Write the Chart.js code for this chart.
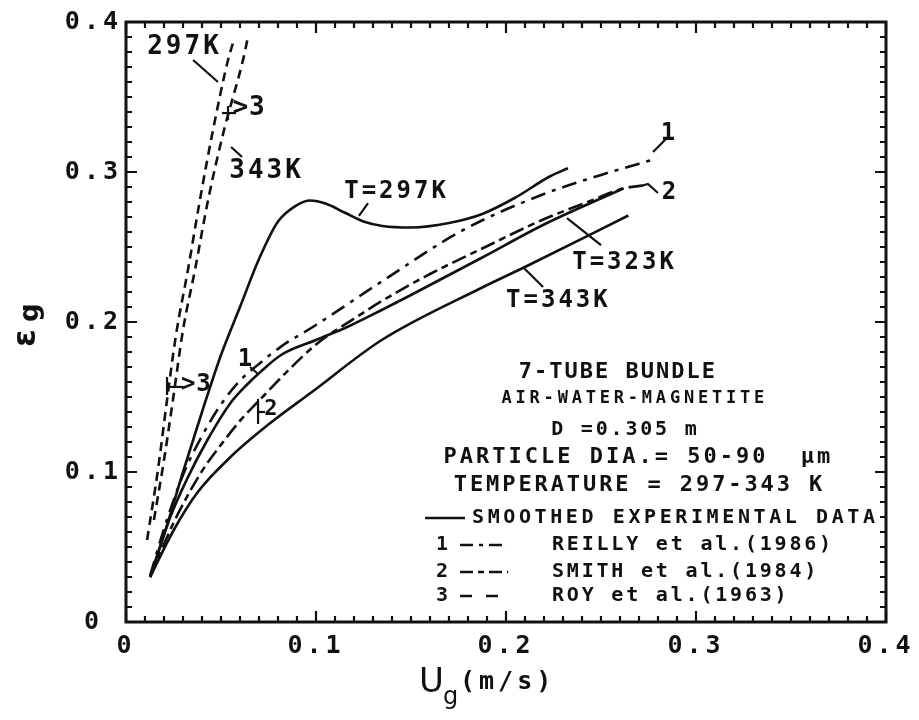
<!DOCTYPE html>
<html><head><meta charset="utf-8">
<script src="https://cdn.jsdelivr.net/npm/chart.js@4.4.1/dist/chart.umd.min.js"></script>
<style>html,body{margin:0;padding:0;background:#fff}</style>
</head><body>
<canvas id="c" width="919" height="720"></canvas>
<script>
// ---------------- data ----------------
const xTickLabels = ["0", "0.1", "0.2", "0.3", "0.4"];
const yTickLabels = ["0 ", "0.1", "0.2", "0.3", "0.4"];

// smoothed experimental data
const t297X = [0.0127,0.02,0.03,0.04,0.05,0.06,0.07,0.08,0.09,0.097,0.105,0.115,0.125,0.135,0.15,0.17,0.1875,0.205,0.223,0.2326];
const t297Y = [0.030,0.058,0.100,0.140,0.178,0.210,0.242,0.267,0.278,0.281,0.279,0.273,0.267,0.264,0.263,0.266,0.272,0.283,0.297,0.3025];

const t323X = [0.0127,0.0233,0.032,0.0427,0.055,0.0635,0.071,0.0816,0.1,0.117,0.1346,0.15,0.1875,0.22,0.2617];
const t323Y = [0.030,0.070,0.095,0.121,0.146,0.158,0.167,0.178,0.188,0.197,0.208,0.218,0.243,0.265,0.289];

const t343X = [0.0127,0.025,0.0374,0.055,0.0763,0.0975,0.1346,0.1875,0.2105,0.2644];
const t343Y = [0.030,0.061,0.086,0.110,0.133,0.153,0.188,0.223,0.237,0.271];

// correlations
const reillyX = [0.0127,0.02,0.03,0.04,0.05,0.06,0.07,0.0816,0.1,0.1346,0.177,0.2193,0.25,0.2794];
const reillyY = [0.031,0.062,0.098,0.124,0.145,0.161,0.172,0.1836,0.198,0.227,0.261,0.285,0.298,0.309];

const smithX = [0.0127,0.025,0.0392,0.0533,0.0604,0.0726,0.0856,0.1,0.1222,0.1346,0.16,0.1875,0.219,0.245,0.2617,0.272];
const smithY = [0.030,0.066,0.099,0.1236,0.1347,0.151,0.168,0.185,0.204,0.214,0.232,0.249,0.268,0.281,0.289,0.291];

const roy297X = [0.0111,0.0168,0.0216,0.0263,0.0326,0.0389,0.0458,0.0537,0.0568];
const roy297Y = [0.0547,0.1013,0.148,0.1913,0.2347,0.2813,0.328,0.3747,0.388];

const roy343X = [0.0147,0.0200,0.0247,0.0300,0.0363,0.0432,0.0516,0.0616,0.0642];
const roy343Y = [0.068,0.108,0.148,0.1947,0.2347,0.2813,0.328,0.3747,0.390];

// ---------------- annotation layout (data coordinates) ----------------
const notes = [
  ["297K", 0.0300, 0.3833, 26, 3, "center"],
  [">3", 0.0560, 0.3427, 26, 1, "left"],
  ["343K", 0.0732, 0.3007, 26, 3, "center"],
  ["T=297K", 0.1416, 0.2867, 24, 3, "center"],
  ["T=323K", 0.2616, 0.2393, 24, 3, "center"],
  ["T=343K", 0.2268, 0.2140, 24, 3, "center"],
  ["1", 0.2853, 0.3253, 24, 0, "center"],
  ["2", 0.2858, 0.2860, 24, 0, "center"],
  ["1", 0.0626, 0.1747, 24, 0, "center"],
  ["2", 0.0763, 0.1420, 22, 0, "center"],
  [">3", 0.0289, 0.1580, 24, 1, "left"],
  ["7-TUBE BUNDLE", 0.2584, 0.1667, 22, 2, "center"],
  ["AIR-WATER-MAGNETITE", 0.2668, 0.1487, 17, 3.8, "center"],
  ["D =0.305 m", 0.2621, 0.1280, 20, 2.8, "center"],
  ["PARTICLE DIA.= 50-90  \u03bcm", 0.2689, 0.1100, 22, 3, "center"],
  ["TEMPERATURE = 297-343 K", 0.2695, 0.0913, 22, 2.9, "center"],
  ["SMOOTHED EXPERIMENTAL DATA", 0.1821, 0.0693, 20, 3.6, "left"],
  ["1", 0.1663, 0.0513, 20, 0, "center"],
  ["REILLY et al.(1986)", 0.2242, 0.0513, 20, 2.8, "left"],
  ["2", 0.1663, 0.0333, 20, 0, "center"],
  ["SMITH et al.(1984)", 0.2242, 0.0333, 20, 2.8, "left"],
  ["3", 0.1663, 0.0173, 20, 0, "center"],
  ["ROY et al.(1963)", 0.2242, 0.0173, 20, 2.8, "left"]
];
const pointers = [
  [[0.0353,0.3747],[0.0484,0.3600]],
  [[0.0505,0.3393],[0.0579,0.3393]],
  [[0.0537,0.3440],[0.0537,0.3347]],
  [[0.0553,0.3167],[0.0611,0.3100]],
  [[0.1274,0.2793],[0.1226,0.2707]],
  [[0.2321,0.2693],[0.2500,0.2513]],
  [[0.2089,0.2367],[0.2195,0.2233]],
  [[0.2774,0.3133],[0.2842,0.3220]],
  [[0.2711,0.2907],[0.2747,0.2920],[0.2800,0.2860]],
  [[0.0653,0.1700],[0.0695,0.1653]],
  [[0.0695,0.1487],[0.0695,0.1320]],
  [[0.0695,0.1400],[0.0732,0.1400]],
  [[0.0216,0.1633],[0.0216,0.1513]],
  [[0.0216,0.1567],[0.0300,0.1567]]
];
const legendSamples = [
  [0.1574, 0.1784, 0.0693, []],
  [0.1758, 0.2011, 0.0513, [13,6,4,6]],
  [0.1758, 0.2011, 0.0333, [13,5,6,5]],
  [0.1758, 0.2011, 0.0173, [12,14]]
];

// ---------------- chart ----------------
const pts = (xs, ys) => xs.map((x, i) => ({x, y: ys[i]}));
const FONT = '"DejaVu Sans Mono"';
function line(label, xs, ys, dash) {
  return {label, data: pts(xs, ys), showLine: true, borderColor: '#111', backgroundColor: '#111',
    borderWidth: 2.6, borderDash: dash, pointRadius: 0, cubicInterpolationMode: 'monotone', fill: false};
}

const decor = {
  id: 'decor',
  beforeDraw(chart) {
    const ctx = chart.ctx;
    ctx.save(); ctx.fillStyle = '#fff'; ctx.fillRect(0, 0, chart.width, chart.height); ctx.restore();
    ctx.letterSpacing = '4px';
  },
  afterDraw(chart) {
    const ctx = chart.ctx, xs = chart.scales.x, ys = chart.scales.y, a = chart.chartArea;
    const P = (x, y) => [xs.getPixelForValue(x), ys.getPixelForValue(y)];
    ctx.save();
    ctx.letterSpacing = '0px';
    ctx.strokeStyle = '#111'; ctx.fillStyle = '#111';
    // frame
    ctx.lineWidth = 3; ctx.setLineDash([]);
    ctx.strokeRect(a.left, a.top, a.right - a.left, a.bottom - a.top);
    // inward ticks
    ctx.lineWidth = 2.2;
    ctx.beginPath();
    for (let i = 0; i <= 40; i++) {
      const v = i / 100, L = (i % 10 === 0) ? 11 : 6;
      const xp = xs.getPixelForValue(v), yp = ys.getPixelForValue(v);
      ctx.moveTo(xp, a.bottom); ctx.lineTo(xp, a.bottom - L);
      ctx.moveTo(xp, a.top); ctx.lineTo(xp, a.top + L);
      ctx.moveTo(a.left, yp); ctx.lineTo(a.left + L, yp);
      ctx.moveTo(a.right, yp); ctx.lineTo(a.right - L, yp);
    }
    ctx.stroke();
    // pointers
    ctx.lineWidth = 2.2;
    pointers.forEach(p => {
      ctx.beginPath();
      p.forEach((q, k) => { const [px, py] = P(q[0], q[1]); k ? ctx.lineTo(px, py) : ctx.moveTo(px, py); });
      ctx.stroke();
    });
    // legend samples
    ctx.lineWidth = 2.6;
    legendSamples.forEach(s => {
      const [x1, y1] = P(s[0], s[2]), [x2] = P(s[1], s[2]);
      ctx.setLineDash(s[3]); ctx.beginPath(); ctx.moveTo(x1, y1); ctx.lineTo(x2, y1); ctx.stroke();
    });
    ctx.setLineDash([]);
    // texts
    ctx.textBaseline = 'middle';
    notes.forEach(n => {
      const [px, py] = P(n[1], n[2]);
      ctx.font = `bold ${n[3]}px ${FONT}`;
      ctx.letterSpacing = n[4] + 'px';
      ctx.textAlign = n[5];
      ctx.fillText(n[0], px + (n[5] === 'center' ? n[4] / 2 : 0), py);
    });
    // x-axis title  U_g (m/s)
    ctx.textAlign = 'left'; ctx.textBaseline = 'alphabetic';
    ctx.letterSpacing = '0px';
    ctx.font = `34px "DejaVu Sans"`; ctx.fillText('U', 419, 692);
    ctx.font = `24px "DejaVu Sans"`; ctx.fillText('g', 443, 704);
    ctx.letterSpacing = '4px';
    ctx.font = `bold 25px ${FONT}`; ctx.fillText('(m/s)', 460, 689);
    // y-axis title  eps_g (rotated)
    ctx.letterSpacing = '0px';
    ctx.translate(35, 347); ctx.rotate(-Math.PI / 2);
    ctx.font = `bold 32px "DejaVu Sans"`; ctx.fillText('\u03b5', 0, 0);
    ctx.font = `bold 26px "DejaVu Sans"`; ctx.fillText('g', 25, 3);
    ctx.restore();
    ctx.letterSpacing = '0px';
  }
};

new Chart(document.getElementById('c'), {
  type: 'scatter',
  data: {
    datasets: [
      line('T=297K (smoothed experimental data)', t297X, t297Y, []),
      line('T=323K (smoothed experimental data)', t323X, t323Y, []),
      line('T=343K (smoothed experimental data)', t343X, t343Y, []),
      line('1 Reilly et al. (1986)', reillyX, reillyY, [15,7,4,7]),
      line('2 Smith et al. (1984)', smithX, smithY, [15,5,7,5]),
      line('3 Roy et al. (1963) 297K', roy297X, roy297Y, [9,6]),
      line('3 Roy et al. (1963) 343K', roy343X, roy343Y, [9,6])
    ]
  },
  options: {
    responsive: false, animation: false, devicePixelRatio: 1,
    layout: {padding: {top: 22, right: 33, left: 0, bottom: 0}},
    plugins: {legend: {display: false}, tooltip: {enabled: false}},
    scales: {
      x: {
        type: 'linear', min: 0, max: 0.4,
        ticks: {stepSize: 0.1, autoSkip: false, maxRotation: 0, padding: 9, color: '#111',
          font: {family: 'DejaVu Sans Mono', size: 25, weight: 'bold'},
          callback: v => xTickLabels[Math.round(v * 10)]},
        grid: {display: false, drawTicks: false}, border: {display: false},
        afterFit: s => { s.height = 98; }
      },
      y: {
        type: 'linear', min: 0, max: 0.4,
        ticks: {stepSize: 0.1, autoSkip: false, padding: 4, color: '#111',
          font: {family: 'DejaVu Sans Mono', size: 25, weight: 'bold'},
          callback: v => yTickLabels[Math.round(v * 10)]},
        grid: {display: false, drawTicks: false}, border: {display: false},
        afterFit: s => { s.width = 126; }
      }
    }
  },
  plugins: [decor]
});
</script>
</body></html>
